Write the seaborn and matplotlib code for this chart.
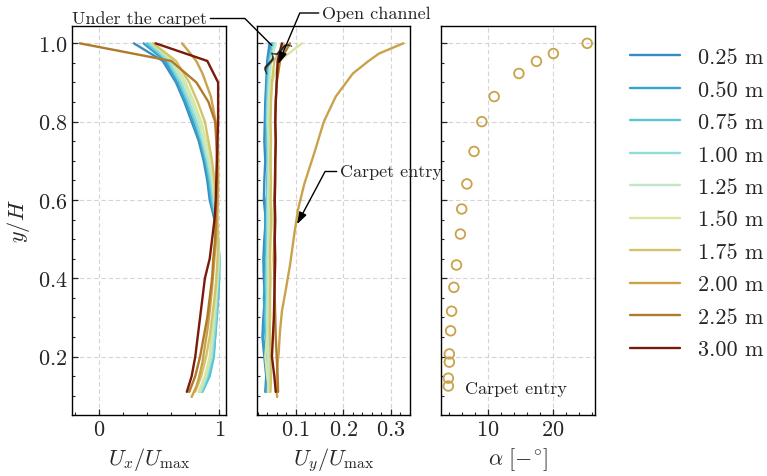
import matplotlib
matplotlib.use("Agg")
import matplotlib.pyplot as plt
import numpy as np
import pandas as pd
import seaborn as sns
from matplotlib.ticker import MultipleLocator

# Measuring stations (distance along the flume) and their colours
stations = ["0.25 m", "0.50 m", "0.75 m", "1.00 m", "1.25 m",
            "1.50 m", "1.75 m", "2.00 m", "2.25 m", "3.00 m"]
station_colors = ["#3a8ac4", "#35a2cc", "#5bc4d4", "#8fdcd8", "#bfe8c6",
                  "#d8e6a4", "#d2c46a", "#c9a24a", "#b07a2a", "#7a1a0a"]

# Relative depth y/H of the measurement points
y_grid = [1.00, 0.955, 0.90, 0.85, 0.80, 0.75, 0.70, 0.65, 0.60, 0.55,
          0.50, 0.45, 0.40, 0.35, 0.30, 0.25, 0.20, 0.15, 0.11]
y_grid_200 = [1.00, 0.974, 0.954, 0.923, 0.864, 0.80, 0.724, 0.641, 0.577, 0.513,
              0.434, 0.377, 0.316, 0.266, 0.207, 0.186, 0.145, 0.125, 0.097]

# Streamwise velocity Ux/Umax
ux_025 = [0.29, 0.53, 0.64, 0.71, 0.77, 0.83, 0.87, 0.90, 0.92, 0.96,
          0.985, 0.995, 0.99, 0.985, 0.97, 0.96, 0.94, 0.90, 0.84]
ux_050 = [0.37, 0.55, 0.65, 0.72, 0.78, 0.84, 0.88, 0.91, 0.93, 0.965,
          0.99, 1.00, 0.995, 0.99, 0.975, 0.965, 0.95, 0.91, 0.85]
ux_075 = [0.40, 0.57, 0.67, 0.74, 0.80, 0.85, 0.89, 0.92, 0.94, 0.97,
          0.99, 1.00, 1.00, 0.99, 0.98, 0.965, 0.955, 0.92, 0.86]
ux_100 = [0.42, 0.58, 0.68, 0.75, 0.81, 0.86, 0.90, 0.93, 0.95, 0.97,
          0.99, 1.00, 0.99, 0.98, 0.97, 0.955, 0.94, 0.90, 0.85]
ux_125 = [0.44, 0.60, 0.70, 0.77, 0.83, 0.87, 0.91, 0.94, 0.96, 0.975,
          0.99, 0.995, 0.985, 0.975, 0.96, 0.945, 0.93, 0.89, 0.84]
ux_150 = [0.45, 0.62, 0.72, 0.79, 0.85, 0.89, 0.93, 0.95, 0.97, 0.98,
          0.99, 0.99, 0.98, 0.97, 0.95, 0.935, 0.92, 0.88, 0.83]
ux_175 = [0.45, 0.64, 0.75, 0.82, 0.88, 0.91, 0.94, 0.96, 0.975, 0.985,
          0.99, 0.985, 0.975, 0.96, 0.94, 0.92, 0.89, 0.85, 0.80]
ux_200 = [0.69, 0.76, 0.81, 0.86, 0.93, 0.97, 0.99, 0.99, 0.985, 0.975,
          0.955, 0.94, 0.92, 0.90, 0.87, 0.86, 0.83, 0.81, 0.77]
ux_225 = [-0.16, 0.60, 0.81, 0.91, 0.965, 0.975, 0.98, 0.98, 0.975, 0.97,
          0.965, 0.95, 0.94, 0.92, 0.90, 0.87, 0.84, 0.80, 0.75]
ux_300 = [0.47, 0.90, 0.99, 0.99, 0.99, 0.985, 0.98, 0.975, 0.97, 0.96,
          0.94, 0.92, 0.88, 0.86, 0.84, 0.82, 0.80, 0.77, 0.73]

# Transverse velocity Uy/Umax
uy_025 = [0.045, 0.040, 0.038, 0.036, 0.035, 0.034, 0.036, 0.034, 0.033, 0.037,
          0.034, 0.032, 0.033, 0.035, 0.032, 0.030, 0.034, 0.038, 0.036]
uy_050 = [0.050, 0.042, 0.040, 0.038, 0.037, 0.039, 0.040, 0.046, 0.038, 0.036,
          0.037, 0.034, 0.036, 0.033, 0.035, 0.032, 0.036, 0.040, 0.037]
uy_075 = [0.052, 0.044, 0.041, 0.040, 0.039, 0.040, 0.041, 0.040, 0.039, 0.040,
          0.038, 0.039, 0.037, 0.038, 0.036, 0.038, 0.040, 0.042, 0.041]
uy_100 = [0.055, 0.046, 0.043, 0.041, 0.040, 0.042, 0.041, 0.042, 0.041, 0.040,
          0.041, 0.040, 0.039, 0.040, 0.039, 0.040, 0.041, 0.043, 0.042]
uy_125 = [0.058, 0.048, 0.045, 0.043, 0.042, 0.043, 0.044, 0.043, 0.042, 0.043,
          0.042, 0.041, 0.042, 0.041, 0.040, 0.041, 0.042, 0.043, 0.042]
uy_150 = [0.113, 0.065, 0.050, 0.047, 0.046, 0.047, 0.048, 0.046, 0.047, 0.052,
          0.046, 0.045, 0.044, 0.046, 0.047, 0.040, 0.036, 0.040, 0.045]
uy_175 = [0.075, 0.055, 0.050, 0.048, 0.047, 0.048, 0.047, 0.048, 0.047, 0.048,
          0.047, 0.046, 0.047, 0.046, 0.045, 0.046, 0.047, 0.048, 0.047]
uy_200 = [0.326, 0.275, 0.252, 0.220, 0.184, 0.159, 0.140, 0.118, 0.105, 0.097,
          0.088, 0.080, 0.071, 0.067, 0.064, 0.062, 0.060, 0.059, 0.061]
uy_225 = [0.088, 0.067, 0.060, 0.058, 0.057, 0.058, 0.057, 0.056, 0.055, 0.056,
          0.055, 0.054, 0.055, 0.056, 0.057, 0.058, 0.060, 0.062, 0.063]
uy_300 = [0.071, 0.062, 0.060, 0.058, 0.057, 0.058, 0.057, 0.057, 0.056, 0.057,
          0.056, 0.057, 0.056, 0.055, 0.054, 0.052, 0.050, 0.055, 0.058]

# Flow deflection angle at the carpet entry (2.00 m)
alpha_y = [1.00, 0.974, 0.954, 0.923, 0.864, 0.80, 0.724, 0.641, 0.577, 0.513,
           0.434, 0.377, 0.316, 0.266, 0.207, 0.186, 0.145, 0.125]
alpha_deg = [25.3, 20.1, 17.5, 14.8, 11.0, 9.1, 7.9, 6.8, 6.0, 5.8,
             5.2, 4.8, 4.45, 4.3, 4.1, 4.1, 3.95, 3.95]

ux_all = [ux_025, ux_050, ux_075, ux_100, ux_125, ux_150, ux_175, ux_200, ux_225, ux_300]
uy_all = [uy_025, uy_050, uy_075, uy_100, uy_125, uy_150, uy_175, uy_200, uy_225, uy_300]

frames = []
for name, ux, uy in zip(stations, ux_all, uy_all):
    yy = y_grid_200 if name == "2.00 m" else y_grid
    frames.append(pd.DataFrame({"station": name, "y": yy, "ux": ux, "uy": uy}))
profiles = pd.concat(frames, ignore_index=True)
palette = dict(zip(stations, station_colors))

sns.set_style("ticks")
plt.rcParams.update({
    "font.family": "serif",
    "font.serif": ["cmr10"],
    "mathtext.fontset": "cm",
    "axes.unicode_minus": False,
    "axes.formatter.use_mathtext": True,
    "font.size": 16,
    "xtick.direction": "in",
    "ytick.direction": "in",
    "axes.edgecolor": "black",
    "axes.linewidth": 1.0,
})

W, H = 767, 477
fig = plt.figure(figsize=(W / 100, H / 100), dpi=100)
bottom = (H - 416) / H
height = (416 - 26.7) / H
ax1 = fig.add_axes([72.3 / W, bottom, 153.4 / W, height])
ax2 = fig.add_axes([256.7 / W, bottom, 153.3 / W, height])
ax3 = fig.add_axes([441 / W, bottom, 154 / W, height])

sns.lineplot(data=profiles, x="ux", y="y", hue="station", hue_order=stations,
             palette=palette, sort=False, estimator=None, orient="y",
             lw=1.7, ax=ax1, legend=True)
sns.lineplot(data=profiles, x="uy", y="y", hue="station", hue_order=stations,
             palette=palette, sort=False, estimator=None, orient="y",
             lw=1.7, ax=ax2, legend=False)
sns.scatterplot(x=alpha_deg, y=alpha_y, ax=ax3, color="#c9a24a",
                facecolor="none", edgecolor="#c9a24a", linewidth=1.3, s=48,
                marker="o")

for ax in (ax1, ax2, ax3):
    ax.set_ylim(0.051, 1.045)
    ax.yaxis.set_major_locator(MultipleLocator(0.2))
    ax.yaxis.set_minor_locator(MultipleLocator(0.05))
    ax.grid(True, which="major", color="#d4d4d4", linestyle=(0, (4, 2.5)), lw=0.8)
    ax.tick_params(which="major", length=4.5, width=0.9, labelsize=16,
                   top=False, right=False)
    ax.tick_params(which="minor", length=2.5, width=0.8, top=False, right=False)
    ax.set_ylabel("")
    for s in ax.spines.values():
        s.set_color("black")
        s.set_linewidth(1.0)

ax1.set_xlim(-0.222, 1.053)
ax1.xaxis.set_major_locator(MultipleLocator(1))
ax1.xaxis.set_minor_locator(MultipleLocator(0.2))
ax2.set_xlim(0.018, 0.340)
ax2.xaxis.set_major_locator(MultipleLocator(0.1))
ax2.xaxis.set_minor_locator(MultipleLocator(0.02))
ax3.set_xlim(2.82, 26.5)
ax3.xaxis.set_major_locator(MultipleLocator(10))
ax3.xaxis.set_minor_locator(MultipleLocator(2))

ax2.tick_params(labelleft=False)
ax3.tick_params(labelleft=False)

ax1.set_ylabel(r"$y/H$", fontsize=16)
ax1.set_xlabel(r"$U_x/U_\mathrm{max}$", fontsize=16)
ax2.set_xlabel(r"$U_y/U_\mathrm{max}$", fontsize=16)
ax3.set_xlabel(r"$\alpha\ [-^{\circ}]$", fontsize=16)

# Annotations on the transverse velocity panel
ax2.set_zorder(5)
ax2.annotate("Under the carpet", xy=(0.0495, 0.995), xycoords="data",
             xytext=(72, H - 19.5), textcoords="figure pixels",
             ha="left", va="center", fontsize=13,
             arrowprops=dict(arrowstyle="-", color="black", lw=1.0,
                             connectionstyle="angle,angleA=0,angleB=-45,rad=0",
                             shrinkA=0, shrinkB=0))
ax2.text(0.0525, 0.972, r"$\{$", rotation=-42, fontsize=23,
         ha="center", va="center")
ax2.annotate("Open channel", xy=(0.063, 0.947), xycoords="data",
             xytext=(322, H - 14), textcoords="figure pixels",
             ha="left", va="center", fontsize=13,
             arrowprops=dict(arrowstyle="-|>,head_length=0.6,head_width=0.2",
                             color="black", lw=1.0, mutation_scale=12,
                             connectionstyle="angle,angleA=0,angleB=67,rad=0",
                             shrinkA=0, shrinkB=0))
ax2.annotate("Carpet entry", xy=(0.1027, 0.538), xycoords="data",
             xytext=(340, H - 172.5), textcoords="figure pixels",
             ha="left", va="center", fontsize=13,
             arrowprops=dict(arrowstyle="-|>,head_length=0.6,head_width=0.2",
                             color="black", lw=1.0, mutation_scale=12,
                             connectionstyle="angle,angleA=0,angleB=62,rad=0",
                             shrinkA=0, shrinkB=0))
ax3.text(6.5, 0.1195, "Carpet entry", ha="left", va="center", fontsize=13)

# Shared legend to the right of the panels
leg = ax1.get_legend()
handles = leg.legend_handles
texts = [t.get_text() for t in leg.get_texts()]
leg.remove()
for h in handles:
    h.set_linewidth(1.7)
fig.legend(handles, texts, loc="center left", bbox_to_anchor=(630 / W, 1 - 204.5 / H),
           frameon=False, fontsize=16, borderpad=0, borderaxespad=0,
           handlelength=2.25, handletextpad=0.8, labelspacing=0.58)

fig.savefig("out.png", dpi=100)
